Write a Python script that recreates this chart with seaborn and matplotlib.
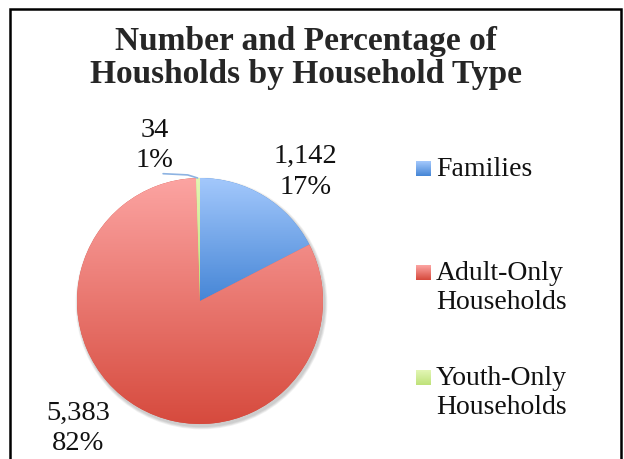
import numpy as np
import matplotlib
matplotlib.use("Agg")
import matplotlib.pyplot as plt
import seaborn as sns
from matplotlib.colors import LinearSegmentedColormap
from matplotlib.patches import Rectangle, Circle

# data
categories = ["Families", "Adult-Only\nHouseholds", "Youth-Only\nHouseholds"]
counts = [1142, 5383, 34]
pct_labels = ["17%", "82%", "1%"]

# gradient colours (top, bottom) per slice
grad_top = ["#a3c8fc", "#fca4a2", "#e2f6b4"]
grad_bottom = ["#4686d6", "#d64a3d", "#bfe27a"]

sns.set_style("white")
plt.rcParams["font.family"] = ["Liberation Serif", "DejaVu Serif"]

fig = plt.figure(figsize=(6.24, 4.59), dpi=100)
W, H = 624, 459

# pie axes: centre ~ (200, 301) px, radius ~123 px
cx, cy, half = 200, 301, 130
ax = fig.add_axes([(cx - half) / W, (H - cy - half) / H, 2 * half / W, 2 * half / H])
lim = half / 123
ax.set_aspect("equal")
ax.axis("off")

# soft shadow
for i in range(4):
    ax.add_patch(Circle((0.012, -0.02), 1 + 0.006 * (4 - i), color="black", alpha=0.05, lw=0, zorder=0))

wedges, _ = ax.pie(counts, startangle=90, counterclock=False, radius=1,
                   wedgeprops=dict(linewidth=0, edgecolor="none"))

# vertical gradient fill for each wedge
for w, top, bot in zip(wedges, grad_top, grad_bottom):
    cmap = LinearSegmentedColormap.from_list("g", [bot, top])
    verts = w.get_path().vertices
    x0, x1 = verts[:, 0].min(), verts[:, 0].max()
    y0, y1 = verts[:, 1].min(), verts[:, 1].max()
    grad = np.linspace(0, 1, 256).reshape(-1, 1)
    im = ax.imshow(grad, cmap=cmap, origin="lower", aspect="auto",
                   extent=[x0, x1, y0, y1], zorder=2)
    im.set_clip_path(w)
    w.set_facecolor(bot)
    w.set_zorder(1)
ax.set_xlim(-lim, lim)
ax.set_ylim(-lim, lim)

# data labels
label_pos = [(0.855, 1.05), (-0.99, -1.035), (-0.37, 1.265)]
for (lx, ly), n, p in zip(label_pos, counts, pct_labels):
    ax.text(lx, ly, f"{n:,}\n{p}", ha="center", va="center", fontsize=20.5,
            linespacing=1.3, color="#111111", zorder=5)

# leader line for the small slice
ax.plot([-0.30, -0.10, -0.02], [1.035, 1.025, 1.0], color="#8db3e2", lw=1.2, zorder=4)

# title
fig.text(306 / W, 1 - 58 / H, "Number and Percentage of\nHousholds by Household Type",
         ha="center", va="center", fontsize=24, fontweight="bold", linespacing=1.12)

# legend (manual, gradient markers)
leg_rows = [(168, 0), (272, 1), (377, 2)]
for y_px, k in leg_rows:
    mx = fig.add_axes([416 / W, (H - y_px - 8) / H, 15 / W, 15 / H])
    cmap = LinearSegmentedColormap.from_list("g", [grad_bottom[k], grad_top[k]])
    mx.imshow(np.linspace(0, 1, 32).reshape(-1, 1), cmap=cmap, origin="lower", aspect="auto")
    mx.axis("off")
    fig.text(436 / W, 1 - (y_px - 11) / H, categories[k], ha="left", va="top",
             fontsize=20, linespacing=1.2, color="#111111")

# chart border
fig.patches.append(Rectangle((10 / W, -0.05), 611 / W, 1.05 - 9 / H, transform=fig.transFigure,
                             fill=False, edgecolor="black", lw=1.8))

fig.savefig("out.png", dpi=100)
